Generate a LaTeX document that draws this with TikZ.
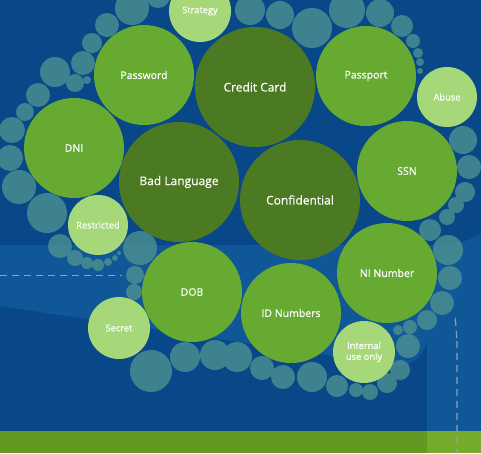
\documentclass[tikz,border=0pt]{standalone}
\usepackage{fontspec}
\setmainfont{Open Sans}
\newfontfamily\bubfont{Open Sans}[FakeBold=0.4]
\usetikzlibrary{positioning}

\definecolor{bgblue}{RGB}{8,72,136}
\definecolor{roadblue}{RGB}{16,87,151}
\definecolor{dashgrey}{RGB}{140,162,192}
\definecolor{grassdark}{RGB}{101,152,32}
\definecolor{grasslight}{RGB}{118,170,42}
\definecolor{bubdark}{RGB}{76,122,34}
\definecolor{bubmid}{RGB}{103,170,50}
\definecolor{bublight}{RGB}{166,216,121}
\definecolor{bubteal}{RGB}{84,152,146}

\begin{document}
\begin{tikzpicture}[
    x=1pt, y=-1pt,
    bubble/.style={circle, inner sep=0pt, text=white, align=center},
    bigbub/.style={bubble, fill=bubdark, minimum size=120pt, font=\bubfont\fontsize{12}{14}\selectfont},
    midbub/.style={bubble, fill=bubmid, minimum size=100pt, font=\bubfont\fontsize{10.5}{12}\selectfont},
    smallbub/.style={bubble, fill=bublight, minimum size=62pt, font=\bubfont\fontsize{9.3}{11}\selectfont},
    road/.style={dashgrey, line width=1.2pt, dash pattern=on 7pt off 5pt}
]

% Background and road
\useasboundingbox (0,0) rectangle (481,453);
\fill[bgblue] (0,0) rectangle (481,453);
\fill[roadblue] (0,245) -- (440,245) arc[start angle=-90, end angle=0, radius=80pt]
    -- (520,431) -- (427,431) -- (427,336) arc[start angle=0, end angle=-90, radius=30pt]
    -- (0,306) -- cycle;
\fill[grassdark] (0,431) rectangle (427,453);
\fill[grasslight] (427,431) rectangle (481,453);
\draw[road] (0,275.5) -- (122,275.5);
\draw[road] (455,321) to[out=85, in=-90] (457,340) -- (457,453);

% Small bubbles round the ring
\begin{scope}[transparency group, opacity=0.72]
\foreach \x/\y/\r in {132/8/17, 158/-4/12, 107/25/12, 92/43/10, 83/63/12, 75/83/9,
    87/80/4, 55/72/15, 38/95/12, 25/112/9, 12/130/13, 10/158/13, 19/187/17, 47/213/20,
    60/246/12, 75/258/8, 87/263/6, 98/265/6, 108/262/4, 115/258/3, 119/253/2,
    140/248/17, 135/275/9, 134/292/8,
    151/371/21, 185/357/15, 215/355/15, 237/357/15, 262/368/12, 283/377/12,
    312/377/15, 337/386/11, 356/390/7, 370/392/8, 387/383/10, 400/370/10,
    408/346/12, 398/330/5, 410/327/7, 427/320/10, 442/303/12, 450/278/12,
    448/250/15, 430/230/11, 447/217/8, 456/205/8, 465/192/10, 469/167/12,
    463/140/14, 420/71/3, 420/62/4, 418/53/5, 413/41/7, 402/26/11, 380/13/14,
    347/10/18, 312/28/20, 280/15/14, 250/10/15}
  \fill[bubteal] (\x,\y) circle[radius=\r pt];
\end{scope}

% Main bubbles
\node[bigbub] (credit) at (255,87) {Credit Card};
\node[bigbub] (badlang) at (179,182) {Bad Language};
\node[bigbub] (confidential) at (300,200) {Confidential};

\node[midbub] (password) at (144,75) {Password};
\node[midbub] (dni) at (74,148) {DNI};
\node[midbub] (passport) at (366,76) {Passport};
\node[midbub] (ssn) at (407,171) {SSN};
\node[midbub] (dob) at (192,292) {DOB};
\node[midbub] (idnum) at (291,313) {ID Numbers};
\node[midbub] (ninum) at (387,273) {NI Number};

\node[smallbub] (strategy) at (200,11) {Strategy};
\node[smallbub, minimum size=60pt] (abuse) at (447,97) {Abuse};
\node[smallbub, minimum size=60pt] (restricted) at (98,225) {Restricted};
\node[smallbub] (secret) at (119,328) {Secret};
\node[smallbub] (internal) at (364,352) {Internal\\use only};

\end{tikzpicture}
\end{document}
